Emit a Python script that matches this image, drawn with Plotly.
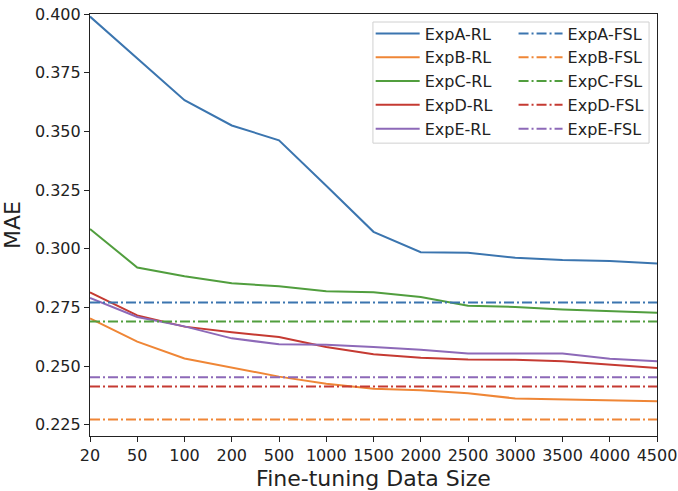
import plotly.graph_objects as go

sizes = ["20", "50", "100", "200", "500", "1000", "1500", "2000", "2500", "3000", "3500", "4000", "4500"]

expA_rl = [0.3989, 0.3810, 0.3633, 0.3525, 0.3462, 0.3268, 0.3072, 0.2985, 0.2983, 0.2961, 0.2952, 0.2948, 0.2937]
expB_rl = [0.2703, 0.2604, 0.2532, 0.2494, 0.2455, 0.2425, 0.2403, 0.2397, 0.2384, 0.2362, 0.2358, 0.2355, 0.2350]
expC_rl = [0.3084, 0.2920, 0.2883, 0.2853, 0.2840, 0.2819, 0.2814, 0.2794, 0.2757, 0.2752, 0.2741, 0.2734, 0.2727]
expD_rl = [0.2814, 0.2716, 0.2668, 0.2644, 0.2624, 0.2581, 0.2550, 0.2535, 0.2528, 0.2527, 0.2521, 0.2507, 0.2492]
expE_rl = [0.2790, 0.2709, 0.2669, 0.2618, 0.2593, 0.2591, 0.2581, 0.2570, 0.2554, 0.2553, 0.2553, 0.2531, 0.2521]

fsl = {"ExpA": 0.2771, "ExpB": 0.2272, "ExpC": 0.2690, "ExpD": 0.2413, "ExpE": 0.2452}

names = ["ExpA", "ExpB", "ExpC", "ExpD", "ExpE"]
rl_series = [expA_rl, expB_rl, expC_rl, expD_rl, expE_rl]
colors = ["#3b75af", "#ef8636", "#519e3e", "#c53a32", "#8d69b8"]

fig = go.Figure()
for i, (n, ys, c) in enumerate(zip(names, rl_series, colors)):
    fig.add_trace(go.Scatter(x=sizes, y=ys, mode="lines", name=f"{n}-RL",
                             line=dict(color=c, width=2), legend="legend",
                             legendgroup=f"rl{i}"))
for i, (n, c) in enumerate(zip(names, colors)):
    fig.add_trace(go.Scatter(x=sizes, y=[fsl[n]] * len(sizes), mode="lines", name=f"{n}-FSL",
                             line=dict(color=c, width=2, dash="10px,3px,2px,3px"), legend="legend2",
                             legendgroup=f"fsl{i}"))

font_family = "DejaVu Sans"
leg_common = dict(bgcolor="rgba(0,0,0,0)", borderwidth=0, font=dict(family=font_family, size=16, color="#222"),
                  traceorder="grouped", tracegroupgap=0, itemwidth=44,
                  xanchor="left", yanchor="top", y=0.994)

fig.update_layout(
    width=678, height=491,
    margin=dict(l=90, r=21, t=14, b=55, autoexpand=False),
    plot_bgcolor="white", paper_bgcolor="white",
    font=dict(family=font_family, color="#222"),
    showlegend=True,
    legend=dict(x=0.495, **leg_common),
    legend2=dict(x=0.747, **leg_common),
    xaxis=dict(type="category", categoryorder="array", categoryarray=sizes, range=[0, 12],
               automargin=False,
               showline=True, mirror=True, linecolor="#222", linewidth=1.2,
               ticks="outside", ticklen=5, tickcolor="#222", showgrid=False, zeroline=False,
               tickfont=dict(size=16, family=font_family),
               title=dict(text="Fine-tuning Data Size", font=dict(size=22, family=font_family), standoff=12)),
    yaxis=dict(range=[0.2202, 0.400], tickvals=[0.225, 0.25, 0.275, 0.3, 0.325, 0.35, 0.375, 0.4],
               tickformat=".3f", automargin=False,
               showline=True, mirror=True, linecolor="#222", linewidth=1.2,
               ticks="outside", ticklen=5, tickcolor="#222", showgrid=False, zeroline=False,
               tickfont=dict(size=16, family=font_family),
               title=dict(text="MAE", font=dict(size=22, family=font_family), standoff=8)),
    shapes=[dict(type="rect", xref="paper", yref="paper", x0=0.499, x1=0.986, y0=0.694, y1=0.981,
                 line=dict(color="#d0d0d0", width=1), fillcolor="rgba(255,255,255,0.8)", layer="above")],
)

fig.write_html("out.html")
